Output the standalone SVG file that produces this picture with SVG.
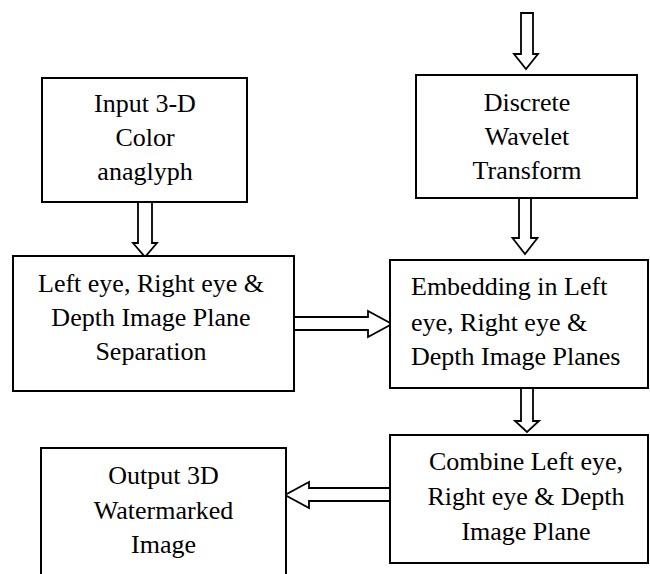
<svg xmlns="http://www.w3.org/2000/svg" width="650" height="574" viewBox="0 0 650 574" font-family="'Liberation Serif', 'DejaVu Serif', serif" font-size="26">
<style>
.box{fill:#fff;stroke:#000;stroke-width:2}
.arr{fill:#fff;stroke:#000;stroke-width:1.8;stroke-linejoin:miter}
.t{font-family:'Liberation Serif','DejaVu Serif',serif;font-size:26px;fill:#000}
.c{text-anchor:middle}
</style>
<rect width="650" height="574" fill="#fff"/>
<g id="connectors">
<polygon class="arr" points="521,13 533,13 533,54 538,54 526,69 514,54 521,54"/>
<polygon class="arr" points="138,202 152,202 152,243 157,243 145,257 133,243 138,243"/>
<polygon class="arr" points="519,198 531,198 531,238 537.5,238 525,254 512.5,238 519,238"/>
<polygon class="arr" points="521,388 533,388 533,421 539,421 527,432 515,421 521,421"/>
<polygon class="arr" points="294,317 368,317 368,311 392,324 368,337 368,330 294,330"/>
<polygon class="arr" points="390,488 309,488 309,482 285,495 309,508 309,501 390,501"/>
</g>
<g id="input">
<rect class="box" x="42" y="78" width="205" height="124"/>
<text class="t c" x="145" y="112">Input 3-D</text>
<text class="t c" x="145" y="146">Color</text>
<text class="t c" x="145" y="180">anaglyph</text>
</g>
<g id="dwt">
<rect class="box" x="416" y="75" width="221" height="123"/>
<text class="t c" x="527" y="111">Discrete</text>
<text class="t c" x="527" y="145">Wavelet</text>
<text class="t c" x="527" y="179">Transform</text>
</g>
<g id="separation">
<rect class="box" x="13" y="256" width="281" height="135"/>
<text class="t c" x="151" y="292">Left eye, Right eye &amp;</text>
<text class="t c" x="151" y="326">Depth Image Plane</text>
<text class="t c" x="151" y="360">Separation</text>
</g>
<g id="embedding">
<rect class="box" x="390" y="260" width="258" height="128"/>
<text class="t" x="411" y="295">Embedding in Left</text>
<text class="t" x="411" y="331">eye, Right eye &amp;</text>
<text class="t" x="411" y="365">Depth Image Planes</text>
</g>
<g id="combine">
<rect class="box" x="390" y="435" width="258" height="128"/>
<text class="t c" x="526" y="470">Combine Left eye,</text>
<text class="t c" x="526" y="505">Right eye &amp; Depth</text>
<text class="t c" x="526" y="540">Image Plane</text>
</g>
<g id="output">
<rect class="box" x="41" y="448" width="245" height="140"/>
<text class="t c" x="163.5" y="484">Output 3D</text>
<text class="t c" x="163.5" y="519">Watermarked</text>
<text class="t c" x="163.5" y="553">Image</text>
</g>
</svg>
